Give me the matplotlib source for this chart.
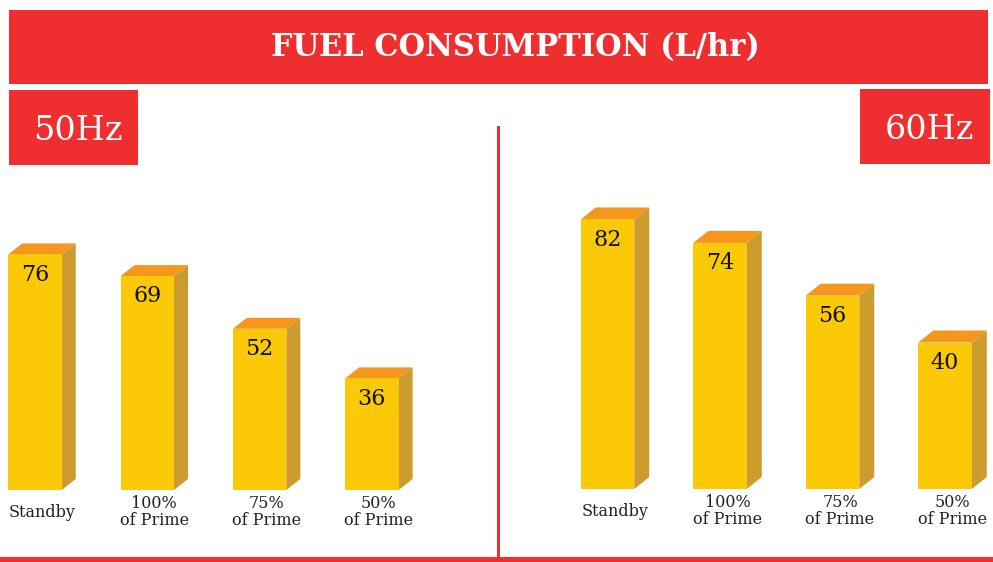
# plot.py
# Run: python3 plot.py

import matplotlib.pyplot as plt
from matplotlib.patches import Polygon, Rectangle

categories = ["Standby", "100%\nof Prime", "75%\nof Prime", "50%\nof Prime"]
fuel_50hz = [76, 69, 52, 36]
fuel_60hz = [82, 74, 56, 40]

RED = "#EE2E2F"
FRONT = "#FCC908"
TOP = "#F6961D"
SIDE = "#CC9D2E"
SERIF = ["DejaVu Serif"]

W, H = 993, 562


def px_box(x, y, w, h):
    # pixel box (top-left origin) -> figure fraction
    return (x / W, 1 - (y + h) / H, w / W, h / H)


def red_box(fig, x, y, w, h):
    l, b, fw, fh = px_box(x, y, w, h)
    fig.add_artist(Rectangle((l, b), fw, fh, transform=fig.transFigure,
                             color=RED, linewidth=0, zorder=1))


def draw_panel(fig, rect, values, ylim, xlim, depth):
    ax = fig.add_axes(px_box(*rect))
    ax.set_xlim(*xlim)
    ax.set_ylim(*ylim)
    ax.axis("off")

    base = ylim[0]
    xs = list(range(len(values)))
    width = 0.476
    # pixels per data unit
    bbox = ax.get_position()
    sx = bbox.width * W / (xlim[1] - xlim[0])
    sy = bbox.height * H / (ylim[1] - ylim[0])
    dx = depth[0] / sx
    dy = depth[1] / sy

    ax.bar(xs, [v - base for v in values], bottom=base, width=width,
           color=FRONT, linewidth=0, zorder=3)
    for x, v in zip(xs, values):
        x0, x1 = x - width / 2, x + width / 2
        top = Polygon([(x0, v), (x1, v), (x1 + dx, v + dy), (x0 + dx, v + dy)],
                      closed=True, color=TOP, linewidth=0, zorder=2)
        side = Polygon([(x1, base), (x1 + dx, base + dy), (x1 + dx, v + dy), (x1, v)],
                       closed=True, color=SIDE, linewidth=0, zorder=2)
        ax.add_patch(top)
        ax.add_patch(side)
        ax.annotate(str(v), (x, v), xytext=(0, -14.5), textcoords="offset points",
                    ha="center", va="center", fontsize=16, family=SERIF,
                    color="#111111", zorder=4)
    for x, label in zip(xs, categories):
        ax.annotate(label, (x + dx / 2, base), xytext=(0, -16), textcoords="offset points",
                    ha="center", va="center", fontsize=11.5, family=SERIF,
                    color="#222222", linespacing=1.0, annotation_clip=False)
    return ax


fig = plt.figure(figsize=(9.93, 5.62), dpi=100)

# banner and frequency boxes
red_box(fig, 9, 10, 979, 74)
fig.text(515 / W, 1 - 48 / H, "FUEL CONSUMPTION (L/hr)", ha="center", va="center",
         color="white", fontsize=22, fontweight="bold", family=SERIF, zorder=5)
red_box(fig, 9, 90, 129, 75)
fig.text(78 / W, 1 - 131 / H, "50Hz", ha="center", va="center",
         color="white", fontsize=24, family=SERIF, zorder=5)
red_box(fig, 860, 89, 130, 75)
fig.text(929 / W, 1 - 130 / H, "60Hz", ha="center", va="center",
         color="white", fontsize=24, family=SERIF, zorder=5)

# divider and bottom rule
red_box(fig, 497, 126, 3, 436)
red_box(fig, 0, 557, 993, 5)

draw_panel(fig, (0, 150, 490, 340), fuel_50hz, (0, 340 / 3.1),
           (-35 / 112.3, 455 / 112.3), (14, 11))
draw_panel(fig, (500, 150, 493, 339), fuel_60hz, (-10, -10 + 339 / 2.93),
           (-107.5 / 112.5, 385.5 / 112.5), (15, 12))

plt.savefig("out.png", dpi=100)
